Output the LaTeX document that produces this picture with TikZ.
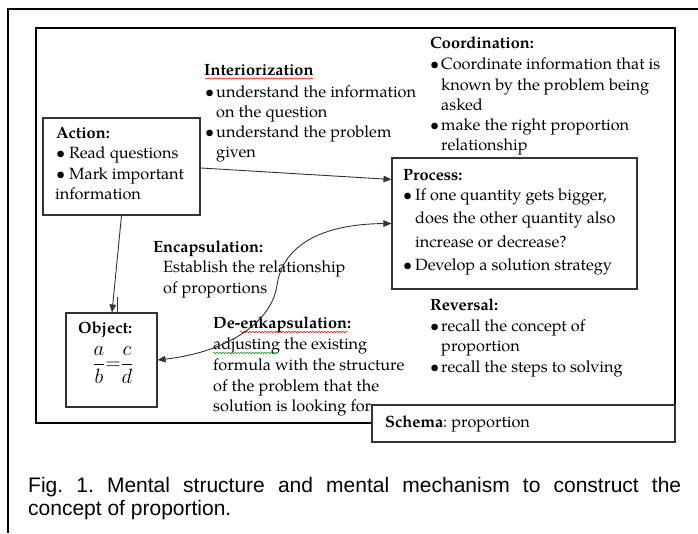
\documentclass[tikz,border=0pt]{standalone}
\usepackage{fontspec}
\setmainfont{texgyrepagella}[Extension=.otf,UprightFont=*-regular,BoldFont=*-bold,ItalicFont=*-italic,BoldItalicFont=*-bolditalic]
\newfontfamily\capfont{Liberation Sans}
\usetikzlibrary{arrows.meta,decorations.pathmorphing,calc}
\newcommand\tl[4]{\node[txt] (#1) at (#2,#3) {#4};}
\frenchspacing
\begin{document}
\begin{tikzpicture}[x=1pt,y=-1pt,
  txt/.style={anchor=base west,inner sep=0pt,font=\fontsize{16.3}{19}\selectfont},
  box/.style={draw=black!80,line width=1.1pt,inner sep=0pt},
  arr/.style={draw=black!80,line width=0.9pt,-{Triangle[length=8pt,width=6.5pt]}},
  frame/.style={draw=black,line width=2pt},
  wavy/.style={decorate,decoration={snake,segment length=3pt,amplitude=0.7pt},line width=0.5pt}]
\useasboundingbox (0,0) rectangle (698,533);
% outer frame
\draw[frame] (8,533) -- (8,9) -- (698,9);
% inner frame
\draw[frame] (372,423) -- (36,423) -- (36,28) -- (675,28) -- (675,405);
% boxes
\node[box,minimum width=157pt,minimum height=97pt] (action) at (121.5,166.5) {};
\node[box,minimum width=245pt,minimum height=131pt] (process) at (514.5,223.5) {};
\node[box,minimum width=91pt,minimum height=94pt] (object) at (111.5,360) {};
\node[box,minimum width=303pt,minimum height=37pt,fill=white] (schema) at (523.5,423.5) {};
% Interiorization
\tl{it}{204}{75}{\textbf{Interiorization}}
\tl{ib1}{205}{97}{\textbullet}
\tl{i1}{216}{97}{understand the information}
\tl{i2}{216}{117}{on the question}
\tl{ib2}{205}{137}{\textbullet}
\tl{i3}{216}{137}{understand the problem}
\tl{i4}{216}{157}{given}
\draw[wavy,red] (205,78.5) -- (313,78.5);
% Coordination
\tl{ct}{430}{48}{\textbf{Coordination:}}
\tl{cb1}{430}{69}{\textbullet}
\tl{c1}{441}{69}{Coordinate information that is}
\tl{c2}{441}{90}{known by the problem being}
\tl{c3}{441}{110}{asked}
\tl{cb2}{430}{130}{\textbullet}
\tl{c4}{441}{130}{make the right proportion}
\tl{c5}{441}{150}{relationship}
% Action
\tl{at}{56}{138}{\textbf{Action:}}
\tl{ab1}{56}{158}{\textbullet}
\tl{a1}{69}{158}{Read questions}
\tl{ab2}{56}{179}{\textbullet}
\tl{a2}{69}{179}{Mark important}
\tl{a3}{55}{199}{information}
% Process
\tl{pt}{403}{180}{\textbf{Process:}}
\tl{pb1}{403}{200}{\textbullet}
\tl{p1}{415}{200}{If one quantity gets bigger,}
\tl{p2}{415}{223}{does the other quantity also}
\tl{p3}{415}{247}{increase or decrease?}
\tl{pb2}{403}{270}{\textbullet}
\tl{p4}{415}{270}{Develop a solution strategy}
% Encapsulation
\tl{et}{153}{252}{\textbf{Encapsulation:}}
\tl{e1}{163}{272}{Establish the relationship}
\tl{e2}{163}{293}{of proportions}
% Object
\tl{ot}{78}{333}{\textbf{Object:}}
\node[inner sep=0pt,font=\fontsize{20}{24}\selectfont] (frac) at (113,365) {$\displaystyle\frac{a}{b}{=}\frac{c}{d}$};
% De-enkapsulation
\tl{dt}{213}{328}{\textbf{De-enkapsulation:}}
\tl{d1}{213}{349}{adjusting the existing}
\tl{d2}{213}{370}{formula with the structure}
\tl{d3}{213}{391}{of the problem that the}
\tl{d4}{213}{411}{solution is looking for}
\draw[wavy,red] (240,332) -- (347,332);
\draw[wavy,green!60!black] (213,353) -- (278,353);
% Reversal
\tl{rt}{430}{310}{\textbf{Reversal:}}
\tl{rb1}{430}{331}{\textbullet}
\tl{r1}{441}{331}{recall the concept of}
\tl{r2}{441}{351}{proportion}
\tl{rb2}{430}{372}{\textbullet}
\tl{r3}{441}{372}{recall the steps to solving}
% Schema
\tl{st}{385}{427}{\textbf{Schema}: proportion}
% connectors
\draw[arr] ($(action.north east)!0.515!(action.south east)$) -- ($(process.north west)+(0,22)$);
\draw[arr] (action.south) -- ($(object.north)+(0.5,0)$);
\draw[draw=black!80,line width=0.8pt] ($(object.north)+(5.5,0)$) -- ++(0,-15);
\draw[draw=black!80,line width=0.9pt,{Triangle[length=8pt,width=6.5pt]}-{Triangle[length=8pt,width=6.5pt]}]
  (object.east) .. controls (228,352) and (272,322) .. (277,285)
  .. controls (283,245) and (322,224) .. (process.west);
% caption
\node[anchor=base west,inner sep=0pt,font=\capfont\fontsize{21}{25}\selectfont] (cap1) at (28,492) {\makebox[653pt][s]{Fig. 1. Mental structure and mental mechanism to construct the}};
\node[anchor=base west,inner sep=0pt,font=\capfont\fontsize{21}{25}\selectfont] (cap2) at (28,515) {concept of proportion.};
\end{tikzpicture}
\end{document}
